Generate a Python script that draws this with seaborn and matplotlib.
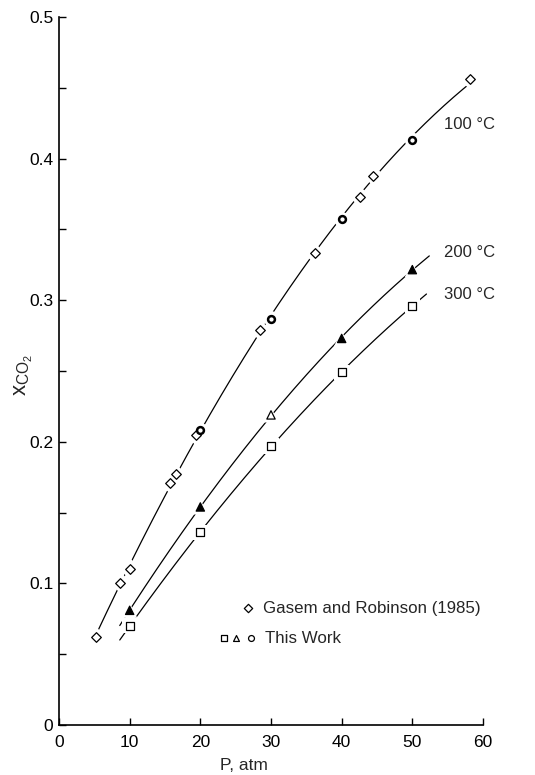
import numpy as np
import pandas as pd
import matplotlib
matplotlib.use("Agg")
import matplotlib.pyplot as plt
from matplotlib import font_manager
from matplotlib.ticker import FixedLocator, FuncFormatter
import seaborn as sns

# CO2 solubility data (mole fraction vs pressure)
gasem_p = [5.2, 8.7, 10.1, 15.7, 16.5, 19.35, 28.4, 36.2, 42.6, 44.5, 58.2]
gasem_x = [0.062, 0.1005, 0.110, 0.171, 0.177, 0.205, 0.279, 0.333, 0.373, 0.388, 0.456]

work_p_100 = [20, 30, 40, 50]
work_x_100 = [0.208, 0.287, 0.357, 0.413]

work_p = [10, 20, 30, 40, 50]
work_x_200 = [0.081, 0.154, 0.219, 0.273, 0.3216]
work_x_300 = [0.070, 0.136, 0.197, 0.249, 0.296]
tri_filled = [True, True, False, True, True]

# pressure span of each smoothed isotherm
span_100 = (5.2, 58.8)
span_200 = (8.6, 52.4)
span_300 = (8.6, 52.0)

temp_labels = ["100 °C", "200 °C", "300 °C"]
x_ticks = [0, 10, 20, 30, 40, 50, 60]
y_ticks = [0, 0.1, 0.2, 0.3, 0.4, 0.5]

sns.set_style("ticks")


def pick_font(names):
    for n in names:
        try:
            font_manager.findfont(n, fallback_to_default=False)
            return n
        except Exception:
            pass
    return "DejaVu Sans"


thin_font = pick_font(["Liberation Sans Narrow", "Liberation Sans"])
legend_font = pick_font(["Liberation Sans", "DejaVu Sans"])
plt.rcParams["font.family"] = [thin_font, "DejaVu Sans"]
plt.rcParams["mathtext.fontset"] = "custom"
plt.rcParams["mathtext.rm"] = thin_font
plt.rcParams["mathtext.it"] = thin_font

W, H = 535, 775
fig = plt.figure(figsize=(W / 100, H / 100), dpi=100)
ax = fig.add_axes([59 / W, 50 / H, 424 / W, 708 / H])


def fitted_curve(p, x, span):
    coef = np.polyfit(p, x, 2)
    pp = np.linspace(span[0], span[1], 200)
    return pd.DataFrame({"P": pp, "x": np.polyval(coef, pp)})


curves = [
    fitted_curve(gasem_p + work_p_100, gasem_x + work_x_100, span_100),
    fitted_curve(work_p, work_x_200, span_200),
    fitted_curve(work_p, work_x_300, span_300),
]
for c in curves:
    sns.lineplot(data=c, x="P", y="x", color="black", lw=0.9, ax=ax, zorder=2)


def marks(p, x, marker, s, face, lw=0.9, halo=120):
    # white halo breaks the curve around each symbol
    sns.scatterplot(x=p, y=x, marker=marker, s=halo, color="white",
                    edgecolor="none", linewidth=0, ax=ax, zorder=3)
    sns.scatterplot(x=p, y=x, marker=marker, s=s, color=face,
                    edgecolor="black", linewidth=lw, ax=ax, zorder=4)


marks(gasem_p, gasem_x, "D", 24, "white")
marks(work_p_100, work_x_100, "o", 24, "white", lw=1.8)
tri_face = ["black" if f else "white" for f in tri_filled]
sns.scatterplot(x=work_p, y=work_x_200, marker="^", s=120, color="white",
                edgecolor="none", linewidth=0, ax=ax, zorder=3)
ax.scatter(work_p, work_x_200, marker="^", s=36, c=tri_face,
           edgecolors="black", linewidths=0.9, zorder=4)
marks(work_p, work_x_300, "s", 30, "white")

# isotherm labels at the curve ends
ax.text(54.5, 0.424, temp_labels[0], fontsize=12, va="center", ha="left")
ax.text(54.5, 0.334, temp_labels[1], fontsize=12, va="center", ha="left")
ax.text(54.5, 0.304, temp_labels[2], fontsize=12, va="center", ha="left")

# key
ax.scatter([26.8], [0.0826], marker="D", s=18, facecolor="white",
           edgecolor="black", linewidth=0.9, zorder=4)
ax.text(28.8, 0.0826, "Gasem and Robinson (1985)", fontsize=12.2,
        family=legend_font, va="center", ha="left")
ax.scatter([23.3], [0.0614], marker="s", s=20, facecolor="white",
           edgecolor="black", linewidth=0.9, zorder=4)
ax.scatter([25.0], [0.0614], marker="^", s=18, facecolor="white",
           edgecolor="black", linewidth=0.9, zorder=4)
ax.scatter([27.1], [0.0614], marker="o", s=18, facecolor="white",
           edgecolor="black", linewidth=0.9, zorder=4)
ax.text(29.2, 0.0614, "This Work", fontsize=12.2, family=legend_font,
        va="center", ha="left")

ax.set_xlim(0, 60)
ax.set_ylim(0, 0.5)
ax.xaxis.set_major_locator(FixedLocator(x_ticks))
ax.yaxis.set_major_locator(FixedLocator(y_ticks))
ax.yaxis.set_minor_locator(FixedLocator([0.05, 0.15, 0.25, 0.35, 0.45]))
ax.yaxis.set_major_formatter(FuncFormatter(lambda v, _: "0" if v == 0 else f"{v:.1f}"))
ax.tick_params(axis="both", which="both", direction="in", length=5,
               width=1.0, color="black", labelsize=12.5, labelcolor="black")
ax.tick_params(axis="x", pad=7)
ax.tick_params(axis="y", pad=4)

sns.despine(ax=ax)
for s in ("left", "bottom"):
    ax.spines[s].set_linewidth(1.2)
    ax.spines[s].set_color("black")

ax.set_xlabel("P, atm", fontsize=12.5)
ax.xaxis.set_label_coords(0.435, -0.046)
ax.set_ylabel(r"$x_{\mathrm{CO}_2}$", fontsize=16, va="center")
ax.yaxis.set_label_coords(-0.083, 0.495)

fig.savefig("out.png", dpi=100)
